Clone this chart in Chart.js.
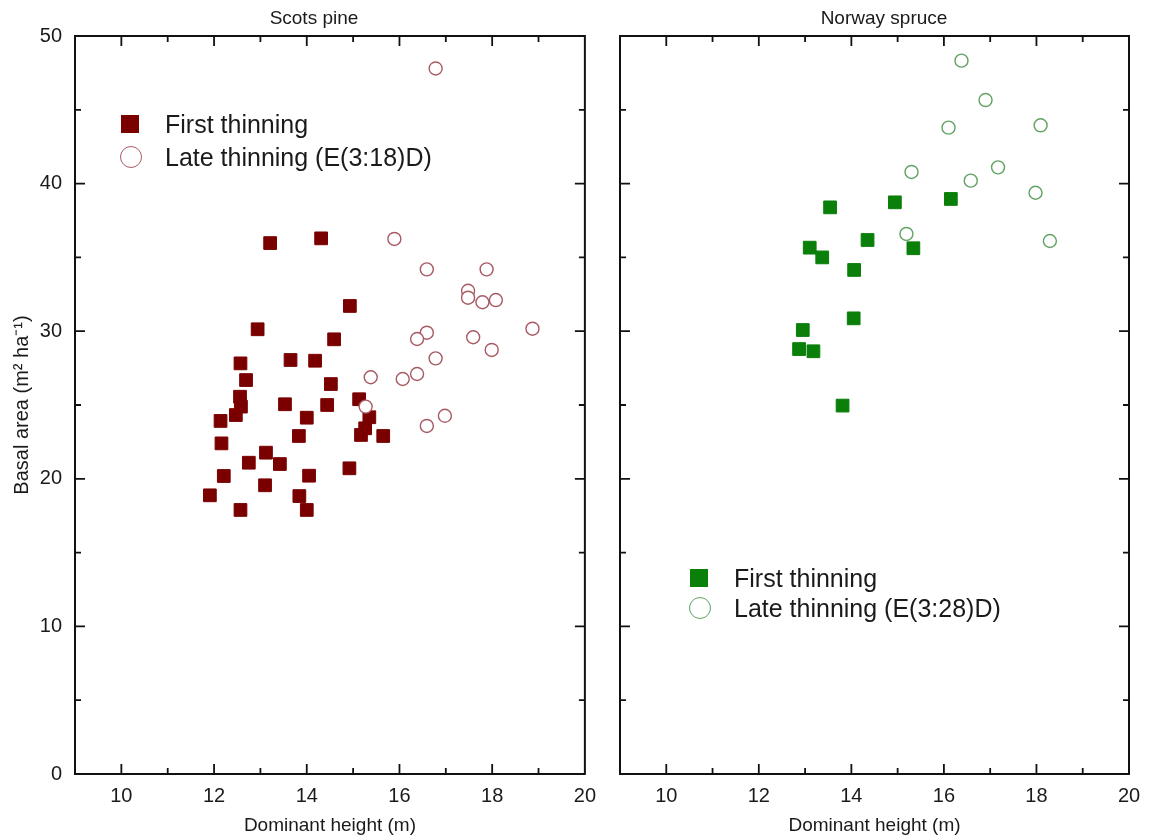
<!DOCTYPE html>
<html>
<head>
<meta charset="utf-8">
<script src="https://cdn.jsdelivr.net/npm/chart.js@4.4.1/dist/chart.umd.min.js"></script>
<style>
html,body{margin:0;padding:0;background:#fff;}
body{width:1152px;height:839px;position:relative;overflow:hidden;font-family:"Liberation Sans",Arial,sans-serif;color:#1a1a1a;}
canvas{position:absolute;top:0;}
#c1{left:0;}
#c2{left:600px;}
.ptitle{position:absolute;top:7px;font-size:19px;line-height:22px;white-space:nowrap;transform:translateX(-50%);}
.legrow{position:absolute;font-size:25px;line-height:30px;white-space:nowrap;}
.mk{position:absolute;box-sizing:border-box;}
</style>
</head>
<body>
<canvas id="c1" width="606" height="839"></canvas>
<canvas id="c2" width="552" height="839"></canvas>
<div class="ptitle" style="left:314px;">Scots pine</div>
<div class="ptitle" style="left:884px;">Norway spruce</div>
<div id="legends"></div>
<script>
// ---- data ----
const panelTitles = ['Scots pine', 'Norway spruce'];
const xAxisTitle = 'Dominant height (m)';
const yAxisTitle = 'Basal area (m² ha⁻¹)';
const xTickLabels = [10, 12, 14, 16, 18, 20];
const yTickLabels = [0, 10, 20, 30, 40, 50];

const pineSeriesNames = ['First thinning', 'Late thinning (E(3:18)D)'];
const spruceSeriesNames = ['First thinning', 'Late thinning (E(3:28)D)'];

const pineFirstX = [13.21,14.31,14.93,12.94,14.59,12.57,13.65,14.18,12.69,14.52,12.56,12.58,12.47,12.14,13.53,14.44,14.00,15.13,15.35,15.26,15.17,15.65,13.83,12.16,12.75,13.12,13.42,14.92,12.21,14.05,13.10,11.91,13.84,12.57,14.00];
const pineFirstY = [35.97,36.29,31.71,30.13,29.45,27.82,28.05,28.00,26.69,26.42,25.56,24.89,24.32,23.92,25.05,25.00,24.14,25.39,24.17,23.42,22.97,22.90,22.90,22.40,21.09,21.77,21.00,20.71,20.19,20.21,19.56,18.88,18.83,17.89,17.89];

const pineLateX = [16.78,15.89,16.59,17.88,17.48,17.48,17.79,18.08,18.87,16.59,16.38,17.59,17.99,16.78,15.38,16.07,16.38,15.27,16.98,16.59];
const pineLateY = [47.80,36.25,34.19,34.19,32.74,32.27,31.96,32.11,30.17,29.90,29.47,29.59,28.73,28.16,26.88,26.76,27.10,24.89,24.27,23.58];

const spruceFirstX = [13.54,14.94,16.15,14.35,13.10,13.37,15.34,14.06,14.05,12.95,12.87,13.18,13.81];
const spruceFirstY = [38.39,38.73,38.96,36.18,35.66,35.00,35.62,34.15,30.87,30.08,28.79,28.64,24.96];

const spruceLateX = [16.38,16.90,16.10,18.09,15.30,17.17,16.58,17.98,15.19,18.29];
const spruceLateY = [48.33,45.66,43.79,43.95,40.79,41.10,40.20,39.38,36.59,36.11];

// ---- helpers ----
const FONT = '"Liberation Sans", Arial, sans-serif';
const TXT = '#1a1a1a';
const toPts = (xs, ys) => xs.map((x, i) => ({x: x, y: ys[i]}));

const frameTicks = {
  id: 'frameTicks',
  beforeDatasetsDraw(chart) {
    const ctx = chart.ctx, a = chart.chartArea, xs = chart.scales.x, ys = chart.scales.y;
    ctx.save();
    ctx.strokeStyle = '#111';
    ctx.lineWidth = 2;
    ctx.strokeRect(a.left, a.top, a.right - a.left, a.bottom - a.top);
    ctx.lineWidth = 1.8;
    ctx.beginPath();
    xs.ticks.forEach(t => {
      const p = xs.getPixelForValue(t.value);
      if (p <= a.left + 1 || p >= a.right - 1) return;
      const len = (t.value % 2 === 0) ? 10 : 6;
      ctx.moveTo(p, a.bottom); ctx.lineTo(p, a.bottom - len);
      ctx.moveTo(p, a.top); ctx.lineTo(p, a.top + len);
    });
    ys.ticks.forEach(t => {
      const p = ys.getPixelForValue(t.value);
      if (p <= a.top + 1 || p >= a.bottom - 1) return;
      const len = (t.value % 10 === 0) ? 10 : 6;
      ctx.moveTo(a.left, p); ctx.lineTo(a.left + len, p);
      ctx.moveTo(a.right, p); ctx.lineTo(a.right - len, p);
    });
    ctx.stroke();
    ctx.restore();
  }
};

function makeChart(id, cfg) {
  return new Chart(document.getElementById(id), {
    type: 'scatter',
    data: {datasets: cfg.datasets},
    options: {
      responsive: false,
      animation: false,
      devicePixelRatio: 1,
      layout: {padding: {top: 36, right: cfg.padRight, bottom: 0, left: 0}},
      plugins: {legend: {display: false}, tooltip: {enabled: false}, title: {display: false}},
      scales: {
        x: {
          type: 'linear', min: 9, max: 20,
          grid: {display: false, drawTicks: false}, border: {display: false},
          ticks: {
            stepSize: 1, autoSkip: false, maxRotation: 0, padding: 10, color: TXT,
            font: {family: FONT, size: 20},
            callback: v => xTickLabels.includes(v) ? String(v) : ''
          },
          title: {display: true, text: xAxisTitle, color: TXT, font: {family: FONT, size: 19}, padding: {top: 0, bottom: 2}},
          afterFit: s => { s.height = 65; }
        },
        y: {
          type: 'linear', min: 0, max: 50,
          grid: {display: false, drawTicks: false}, border: {display: false},
          ticks: {
            display: cfg.yLabels, stepSize: 5, padding: 13, color: TXT,
            font: {family: FONT, size: 20},
            callback: v => yTickLabels.includes(v) ? String(v) : ''
          },
          title: {display: cfg.yLabels, text: yAxisTitle, color: TXT, font: {family: FONT, size: 20}, padding: {top: 10, bottom: 0}},
          afterFit: s => { s.width = cfg.yWidth; }
        }
      }
    },
    plugins: [frameTicks]
  });
}

const pineRed = '#7a0000', pineCircle = '#a85a64';
const spruceGreen = '#0a7f0a', spruceCircle = '#62a262';

makeChart('c1', {
  padRight: 21, yWidth: 75, yLabels: true,
  datasets: [
    {label: pineSeriesNames[0], data: toPts(pineFirstX, pineFirstY), order: 1,
     pointStyle: 'rect', pointRadius: 9, backgroundColor: pineRed, borderColor: pineRed, borderWidth: 1},
    {label: pineSeriesNames[1], data: toPts(pineLateX, pineLateY), order: 0,
     pointStyle: 'circle', pointRadius: 6.5, backgroundColor: '#ffffff', borderColor: pineCircle, borderWidth: 1.4}
  ]
});

makeChart('c2', {
  padRight: 23, yWidth: 20, yLabels: false,
  datasets: [
    {label: spruceSeriesNames[0], data: toPts(spruceFirstX, spruceFirstY), order: 0,
     pointStyle: 'rect', pointRadius: 9, backgroundColor: spruceGreen, borderColor: spruceGreen, borderWidth: 1},
    {label: spruceSeriesNames[1], data: toPts(spruceLateX, spruceLateY), order: 1,
     pointStyle: 'circle', pointRadius: 6.5, backgroundColor: '#ffffff', borderColor: spruceCircle, borderWidth: 1.4}
  ]
});

// ---- HTML legends ----
function addLegend(names, fill, stroke, left, tops) {
  const host = document.getElementById('legends');
  names.forEach((name, i) => {
    const row = document.createElement('div');
    row.className = 'legrow';
    row.style.left = left + 'px';
    row.style.top = (tops[i] - 15) + 'px';
    const mk = document.createElement('span');
    mk.className = 'mk';
    if (i === 0) {
      mk.style.cssText = 'left:0;top:6px;width:18px;height:18px;background:' + fill + ';';
    } else {
      mk.style.cssText = 'left:-1px;top:4px;width:22px;height:22px;border-radius:50%;border:1.5px solid ' + stroke + ';background:#fff;';
    }
    const tx = document.createElement('span');
    tx.textContent = name;
    tx.style.cssText = 'position:absolute;left:44px;top:0;';
    row.appendChild(mk);
    row.appendChild(tx);
    host.appendChild(row);
  });
}
addLegend(pineSeriesNames, pineRed, pineCircle, 121, [124, 157]);
addLegend(spruceSeriesNames, spruceGreen, spruceCircle, 690, [578, 608]);
</script>
</body>
</html>
